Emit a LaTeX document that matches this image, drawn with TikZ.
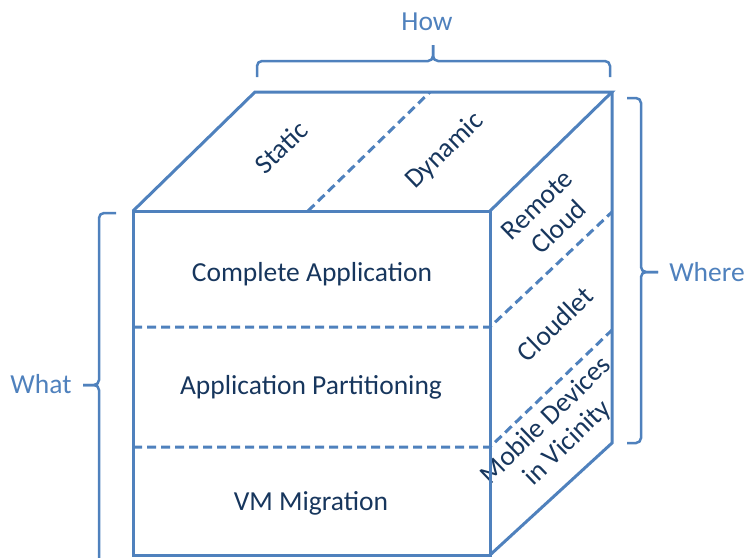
\documentclass[tikz,border=0pt]{standalone}
\usepackage{fontspec}
\setmainfont{Carlito}
\usepackage{xcolor}
\usetikzlibrary{positioning}
\definecolor{edge}{HTML}{4F81BD}
\definecolor{ink}{HTML}{17365D}

\begin{document}
\begin{tikzpicture}[x=1pt,y=-1pt,
    cube/.style={draw=edge,line width=3pt,line join=miter},
    split/.style={draw=edge,line width=3pt,dash pattern=on 9pt off 5pt},
    brace/.style={draw=edge,line width=2.5pt,rounded corners=5pt},
    face/.style={text=ink,font=\fontsize{27.5}{31}\selectfont,align=center,inner sep=0pt},
    side/.style={face,rotate=44},
    axis/.style={text=edge,font=\fontsize{27.5}{31}\selectfont,inner sep=0pt}]
  \useasboundingbox (0,0) rectangle (744,557);
  \path
  % cube corners
  (133,211) coordinate(ftl)
  (490,211) coordinate(ftr)
  (133,555) coordinate(fbl)
  (490,555) coordinate(fbr)
  (255,92) coordinate(btl)
  (612,92) coordinate(btr)
  (612,443) coordinate(bbr)

  % splits
  (308,211) coordinate(hA)
  (430,92) coordinate(hB)
  (133,327) coordinate(wA)
  (490,327) coordinate(wB)
  (612,212) coordinate(wC)
  (133,447) coordinate(vA)
  (490,447) coordinate(vB)
  (612,330) coordinate(vC)

  % front
  (312,274) node[face](complete) {Complete Application}
  (311,387) node[face](partition) {Application Partitioning}
  (311,503) node[face](vm) {VM Migration}

  % top
  (281,147) node[side](static) {Static}
  (445,151) node[side](dynamic) {Dynamic}

  % right
  (548,216) node[side](remote) {Remote\\Cloud}
  (555,324) node[side](cloudlet) {Cloudlet}
  (557,432) node[side](mobile) {Mobile Devices\\in Vicinity}

  % axes
  (427,22) node[axis](how) {How}
  (707,272) node[axis](where) {Where}
  (41,384) node[axis](what) {What}
  ;

  \draw[cube] (fbl) -- (ftl) -- (ftr) -- (fbr) -- cycle;
  \draw[cube] (ftl) -- (btl) -- (btr) -- (ftr);
  \draw[cube] (btr) -- (bbr) -- (fbr);

  \draw[split] (hA) -- (hB);
  \draw[split] (wA) -- (wB) -- (wC);
  \draw[split] (vA) -- (vB) -- (vC);

  \draw[brace] (257,77) -- (257,61) -- (433,61) -- (433,45);
  \draw[brace] (433,45) -- (433,61) -- (610,61) -- (610,77);
  \draw[brace] (627,98) -- (641,98) -- (641,272) -- (658,272);
  \draw[brace] (658,272) -- (641,272) -- (641,443) -- (627,443);
  \draw[brace] (116,213) -- (99,213) -- (99,385) -- (83,385);
  \draw[brace] (83,385) -- (99,385) -- (99,562);
\end{tikzpicture}
\end{document}
